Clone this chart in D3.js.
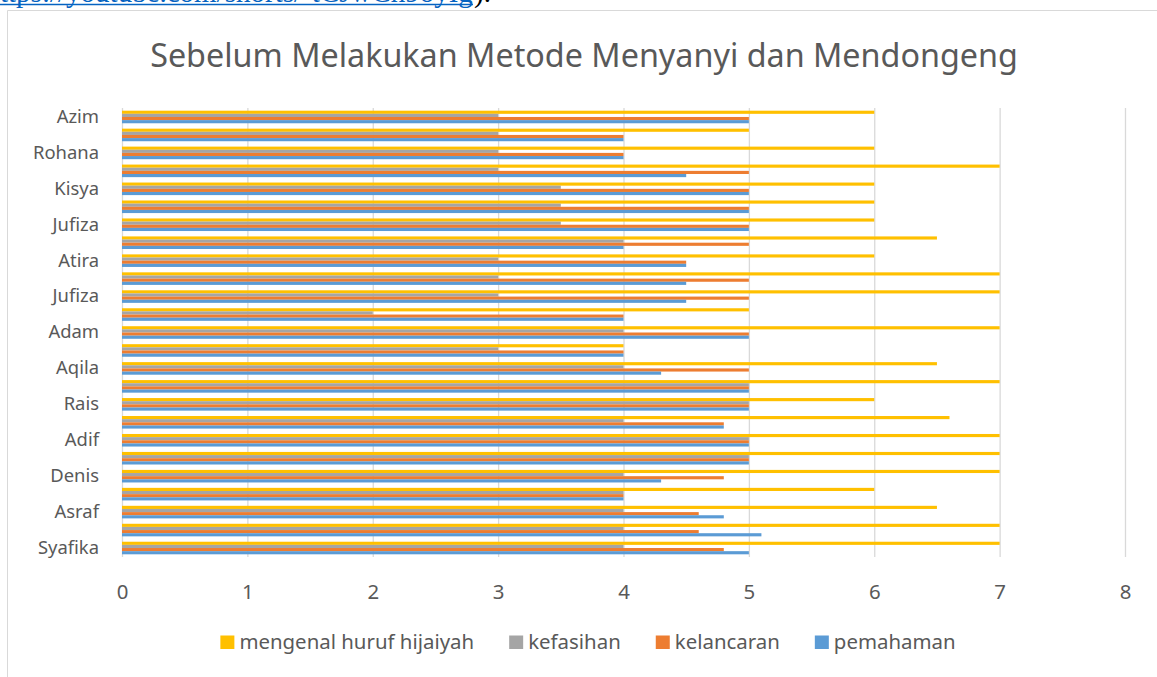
<!DOCTYPE html>
<html>
<head>
<meta charset="utf-8">
<script src="https://cdn.jsdelivr.net/npm/d3@7"></script>
<style>
  html, body { margin: 0; padding: 0; background: #ffffff; }
  svg { display: block; }
</style>
</head>
<body>
<svg id="chart" width="1157" height="677"></svg>
<script>
// ---- DATA (categories listed bottom -> top, as in the Excel bar chart) ----
const categories = [
  "Syafika", "", "Asraf", "", "Denis", "", "Adif", "", "Rais", "",
  "Aqila", "", "Adam", "", "Jufiza", "", "Atira", "", "Jufiza", "",
  "Kisya", "", "Rohana", "", "Azim"
];
const hijaiyah   = [7, 7, 6.5, 6, 7, 7, 7, 6.6, 6, 7, 6.5, 4, 7, 5, 7, 7, 6, 6.5, 6, 6, 6, 7, 6, 5, 6];
const kefasihan  = [4, 4, 4, 4, 4, 5, 5, 4, 5, 5, 4, 3, 4, 2, 3, 3, 3, 4, 3.5, 3.5, 3.5, 3, 3, 3, 3];
const kelancaran = [4.8, 4.6, 4.6, 4, 4.8, 5, 5, 4.8, 5, 5, 5, 4, 5, 4, 5, 5, 4.5, 5, 5, 5, 5, 5, 4, 4, 5];
const pemahaman  = [5, 5.1, 4.8, 4, 4.3, 5, 5, 4.8, 5, 5, 4.3, 4, 5, 4, 4.5, 4.5, 4.5, 4, 5, 5, 5, 4.5, 4, 4, 5];
const seriesNames = ["mengenal huruf hijaiyah", "kefasihan", "kelancaran", "pemahaman"];
const seriesColors = ["#FFC000", "#A5A5A5", "#ED7D31", "#5B9BD5"];
const xTicks = [0, 1, 2, 3, 4, 5, 6, 7, 8];
const title = "Sebelum Melakukan Metode Menyanyi dan Mendongeng";
const linkText = "https://youtube.com/shorts/-tCJwCh9oyIg";

const seriesValues = [hijaiyah, kefasihan, kelancaran, pemahaman];
const rows = categories.map((c, i) => ({
  idx: i, name: c,
  values: seriesValues.map((arr, s) => ({ s, v: arr[i] }))
}));

const svg = d3.select("#chart");
const FONT = "'Noto Sans', 'Open Sans', sans-serif";
const TXT = "#595959";

// helper to measure text width
function measure(str, size, family) {
  const t = svg.append("text").attr("font-family", family).attr("font-size", size).text(str);
  const w = t.node().getComputedTextLength();
  t.remove();
  return w;
}
const LEG = 100 * 235 / measure("mengenal huruf hijaiyah", 100, FONT);
const LBL = 100 * 66 / measure("Rohana", 100, FONT);

// ---- partial link line at the very top (cut by the page edge, as in the reference) ----
const SERIF = "'Liberation Serif', serif";
const linkSize = 100 * 473 / measure(linkText.slice(1), 100, SERIF);
const hW = measure("h", linkSize, SERIF);
svg.append("text")
  .attr("x", -hW).attr("y", 2)
  .attr("font-family", SERIF)
  .attr("font-size", linkSize)
  .attr("fill", "#0563C1")
  .text(linkText);
svg.append("line")
  .attr("x1", 0).attr("x2", 473).attr("y1", 4.5).attr("y2", 4.5)
  .attr("stroke", "#0563C1").attr("stroke-width", 1.3);
svg.append("text")
  .attr("x", 474).attr("y", 2)
  .attr("font-family", SERIF)
  .attr("font-size", linkSize)
  .attr("fill", "#000")
  .text(").");

// ---- chart frame ----
svg.append("path")
  .attr("d", "M7.5,677 L7.5,10.5 L1157,10.5")
  .attr("fill", "none").attr("stroke", "#d9d9d9").attr("stroke-width", 1);

// ---- title ----
const titleSize = 100 * 868 / measure(title, 100, FONT);
svg.append("text")
  .attr("x", 584).attr("y", 67)
  .attr("text-anchor", "middle")
  .attr("font-family", FONT).attr("font-size", titleSize)
  .attr("fill", TXT)
  .text(title);

// ---- scales ----
const x = d3.scaleLinear().domain([0, 8]).range([122, 1125]);
const y = d3.scaleBand()
  .domain(d3.range(categories.length).reverse())
  .range([108, 557])
  .paddingInner(0.3).paddingOuter(0.15);
const ySub = d3.scaleBand().domain([0, 1, 2, 3]).range([0, y.bandwidth()]);

// gridlines
const grid = svg.append("g").attr("transform", "translate(0,108)");
grid.call(d3.axisBottom(x).tickValues(xTicks).tickSize(557 - 108).tickFormat(""))
  .call(g => g.select(".domain").remove())
  .call(g => g.selectAll(".tick line").attr("stroke", "#d9d9d9").attr("stroke-width", 1.3));

// bars
const groups = svg.append("g").selectAll("g.row")
  .data(rows).join("g")
  .attr("class", "row")
  .attr("transform", d => `translate(0,${y(d.idx)})`);
groups.selectAll("rect")
  .data(d => d.values)
  .join("rect")
  .attr("x", x(0))
  .attr("y", d => ySub(d.s))
  .attr("width", d => x(d.v) - x(0))
  .attr("height", ySub.bandwidth())
  .attr("fill", d => seriesColors[d.s]);

// x axis labels
const xAxis = svg.append("g").attr("transform", "translate(0,557)")
  .call(d3.axisBottom(x).tickValues(xTicks).tickSize(0).tickPadding(0).tickFormat(d3.format("d")));
xAxis.select(".domain").remove();
xAxis.selectAll("text")
  .attr("dy", null).attr("y", 42)
  .attr("font-family", FONT).attr("font-size", LEG).attr("fill", TXT);

// y axis labels (every other category shown, as in the reference)
const yAxis = svg.append("g").attr("transform", "translate(122,0)")
  .call(d3.axisLeft(y).tickSize(0).tickPadding(23)
    .tickValues(d3.range(0, categories.length, 2))
    .tickFormat(i => categories[i]));
yAxis.select(".domain").remove();
yAxis.selectAll("text")
  .attr("font-family", FONT).attr("font-size", LBL).attr("fill", TXT);

// legend
const items = seriesNames.map((n, i) => ({ n, c: seriesColors[i], w: measure(n, LEG, FONT) }));
const sq = 14, gapT = 5, gapI = 35;
const total = d3.sum(items, d => sq + gapT + d.w) + gapI * (items.length - 1);
let lx = 588 - total / 2;
const legend = svg.append("g");
items.forEach(d => {
  legend.append("rect").attr("x", lx).attr("y", 635.5).attr("width", sq).attr("height", 13.5).attr("fill", d.c);
  legend.append("text").attr("x", lx + sq + gapT).attr("y", 649)
    .attr("font-family", FONT).attr("font-size", LEG).attr("fill", TXT).text(d.n);
  lx += sq + gapT + d.w + gapI;
});
</script>
</body>
</html>
